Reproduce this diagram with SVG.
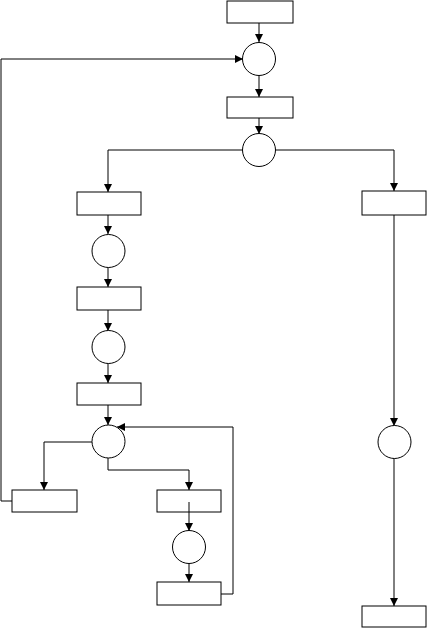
<svg xmlns="http://www.w3.org/2000/svg" width="427" height="628" viewBox="0 0 427 628">
<style>
.n{fill:#fff;stroke:#000;stroke-width:1}
.c{fill:none;stroke:#000;stroke-width:1;marker-end:url(#a)}
.p{fill:none;stroke:#000;stroke-width:1}
</style>
<defs>
<marker id="a" markerUnits="userSpaceOnUse" markerWidth="8" markerHeight="8" refX="8" refY="4" orient="auto">
<path d="M0,0 L8,4 L0,8 z" fill="#000"/>
</marker>
</defs>
<rect width="427" height="628" fill="#fff"/>
<g id="connectors">
<line class="c" x1="259" y1="23" x2="259" y2="42"/>
<line class="c" x1="259" y1="75" x2="259" y2="97"/>
<line class="c" x1="259" y1="118" x2="259" y2="134"/>
<polyline class="c" points="243,150 108,150 108,192"/>
<polyline class="c" points="275,150 394,150 394,191"/>
<line class="c" x1="108" y1="215" x2="108" y2="234"/>
<line class="c" x1="108" y1="267" x2="108" y2="287"/>
<line class="c" x1="108" y1="310" x2="108" y2="331"/>
<line class="c" x1="108" y1="363" x2="108" y2="383"/>
<line class="c" x1="108" y1="405" x2="108" y2="425"/>
<polyline class="c" points="92,442 44,442 44,490"/>
<polyline class="c" points="108,458 108,470 189,470 189,490"/>
<line class="c" x1="189" y1="502" x2="189" y2="531"/>
<line class="c" x1="189" y1="563" x2="189" y2="582"/>
<polyline class="c" points="221,594 233,594 233,427 117,427"/>
<polyline class="c" points="12,501 1,501 1,59 243,59"/>
<line class="c" x1="394" y1="215" x2="394" y2="426"/>
<line class="c" x1="394" y1="458" x2="394" y2="606"/>
</g>
<g id="t1"><rect class="n" x="227" y="1" width="66" height="22"/></g>
<g id="p1"><circle class="n" cx="259" cy="59" r="16.5"/></g>
<g id="t2"><rect class="n" x="227" y="97" width="66" height="21"/></g>
<g id="p2"><circle class="n" cx="259" cy="150" r="16.5"/></g>
<g id="t3"><rect class="n" x="77" y="192" width="64" height="23"/></g>
<g id="p3"><circle class="n" cx="108.5" cy="251" r="16.5"/></g>
<g id="t4"><rect class="n" x="77" y="287" width="64" height="23"/></g>
<g id="p4"><circle class="n" cx="108.5" cy="347" r="16.5"/></g>
<g id="t5"><rect class="n" x="77" y="383" width="64" height="22"/></g>
<g id="p5"><circle class="n" cx="108.5" cy="441.5" r="16.5"/></g>
<g id="t6"><rect class="n" x="12" y="490" width="65" height="22"/></g>
<g id="t7"><rect class="n" x="157" y="490" width="64" height="22"/></g>
<g id="p6"><circle class="n" cx="189" cy="547" r="16.5"/></g>
<g id="t8"><rect class="n" x="157" y="582" width="64" height="23"/></g>
<g id="t9"><rect class="n" x="362" y="191" width="64" height="24"/></g>
<g id="p7"><circle class="n" cx="394.5" cy="442" r="16.5"/></g>
<g id="t10"><rect class="n" x="362" y="606" width="64" height="21"/></g>
<line class="p" x1="189" y1="502" x2="189" y2="512"/>
</svg>
